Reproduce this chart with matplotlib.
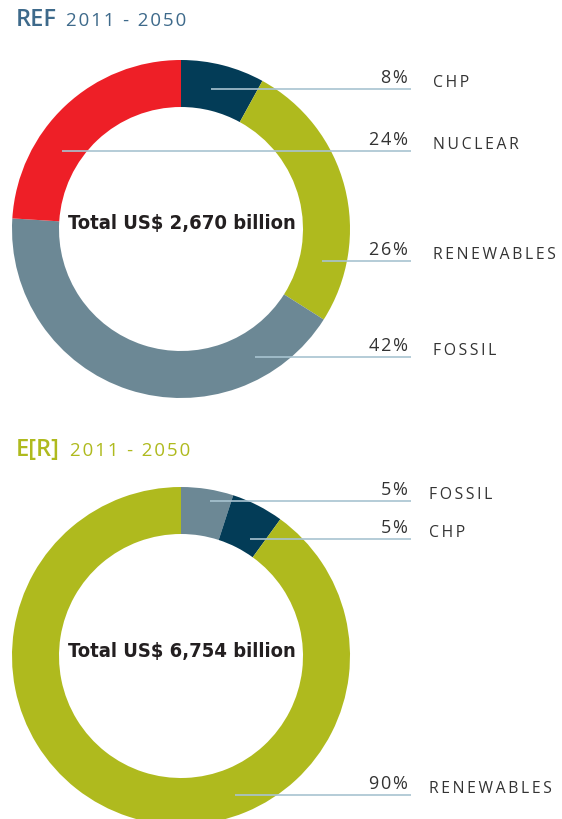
import matplotlib
matplotlib.use('Agg')
import matplotlib.pyplot as plt

# Dati: quota degli investimenti 2011-2050
ref_labels = ['CHP', 'RENEWABLES', 'FOSSIL', 'NUCLEAR']
ref_values = [8, 26, 42, 24]
ref_total = 'Total US$ 2,670 billion'

er_labels = ['FOSSIL', 'CHP', 'RENEWABLES']
er_values = [5, 5, 90]
er_total = 'Total US$ 6,754 billion'

colors = {'CHP': '#033c57', 'RENEWABLES': '#afba1e', 'FOSSIL': '#6c8895', 'NUCLEAR': '#ee1f27'}
LINE_C = '#a8c3d1'
TEXT_C = '#333333'

W, H = 562, 819
fig = plt.figure(figsize=(W / 100, H / 100), dpi=100)
ax = fig.add_axes([0, 0, 1, 1])
ax.set_xlim(0, W)
ax.set_ylim(0, H)
ax.set_aspect('equal')
ax.axis('off')

LIGHT = ['Open Sans', 'DejaVu Sans']


def y(img_y):
    # coordinate immagine -> coordinate assi
    return H - img_y


def spaced(s, sep='\u2009'):
    return sep.join(s)


def donut(cy, labels, values, total, label_order, label_ys, anchor_xs, label_x):
    cx, r_out, width = 181, 169, 47
    ax.pie(values, colors=[colors[l] for l in labels], startangle=90,
           counterclock=False, center=(cx, y(cy)), radius=r_out,
           wedgeprops=dict(width=width, linewidth=0), frame=True)
    ax.text(cx + 1, y(cy - 5), total, ha='center', va='center', fontsize=14.5,
            fontweight='bold', family='DejaVu Sans', fontstretch='condensed',
            color='#231f20')
    for name, ly, axx in zip(label_order, label_ys, anchor_xs):
        val = values[labels.index(name)]
        ax.plot([axx, 411], [y(ly), y(ly)], color=LINE_C, lw=1.2, solid_capstyle='butt')
        ax.text(408, y(ly - 2), spaced(f'{val}%', '\u200a'), ha='right', va='bottom',
                fontsize=13, family=LIGHT, color=TEXT_C)
        ax.text(label_x, y(ly - 6), spaced(name), ha='left', va='center',
                fontsize=11.3, family=LIGHT, color=TEXT_C)


# Grafico REF
ax.text(16, y(20), 'REF', ha='left', va='center', fontsize=17, family=LIGHT,
        fontweight='semibold', color='#3e6a8b')
ax.text(66, y(21), spaced('2011 - 2050', '\u200a'), ha='left', va='center',
        fontsize=13.5, family=LIGHT, color='#3e6a8b')
donut(229, ref_labels, ref_values, ref_total,
      ['CHP', 'NUCLEAR', 'RENEWABLES', 'FOSSIL'], [89, 151, 261, 357],
      [211, 62, 322, 255], 433)

# Grafico E[R]
ax.text(16, y(450), 'E[R]', ha='left', va='center', fontsize=17, family=LIGHT,
        fontweight='semibold', color='#afba1e')
ax.text(70, y(451), spaced('2011 - 2050', '\u200a'), ha='left', va='center',
        fontsize=13.5, family=LIGHT, color='#afba1e')
donut(656, er_labels, er_values, er_total,
      ['FOSSIL', 'CHP', 'RENEWABLES'], [501, 539, 795], [210, 250, 235], 429)

ax.set_xlim(0, W)
ax.set_ylim(0, H)
ax.axis('off')
fig.savefig('out.png', dpi=100)
